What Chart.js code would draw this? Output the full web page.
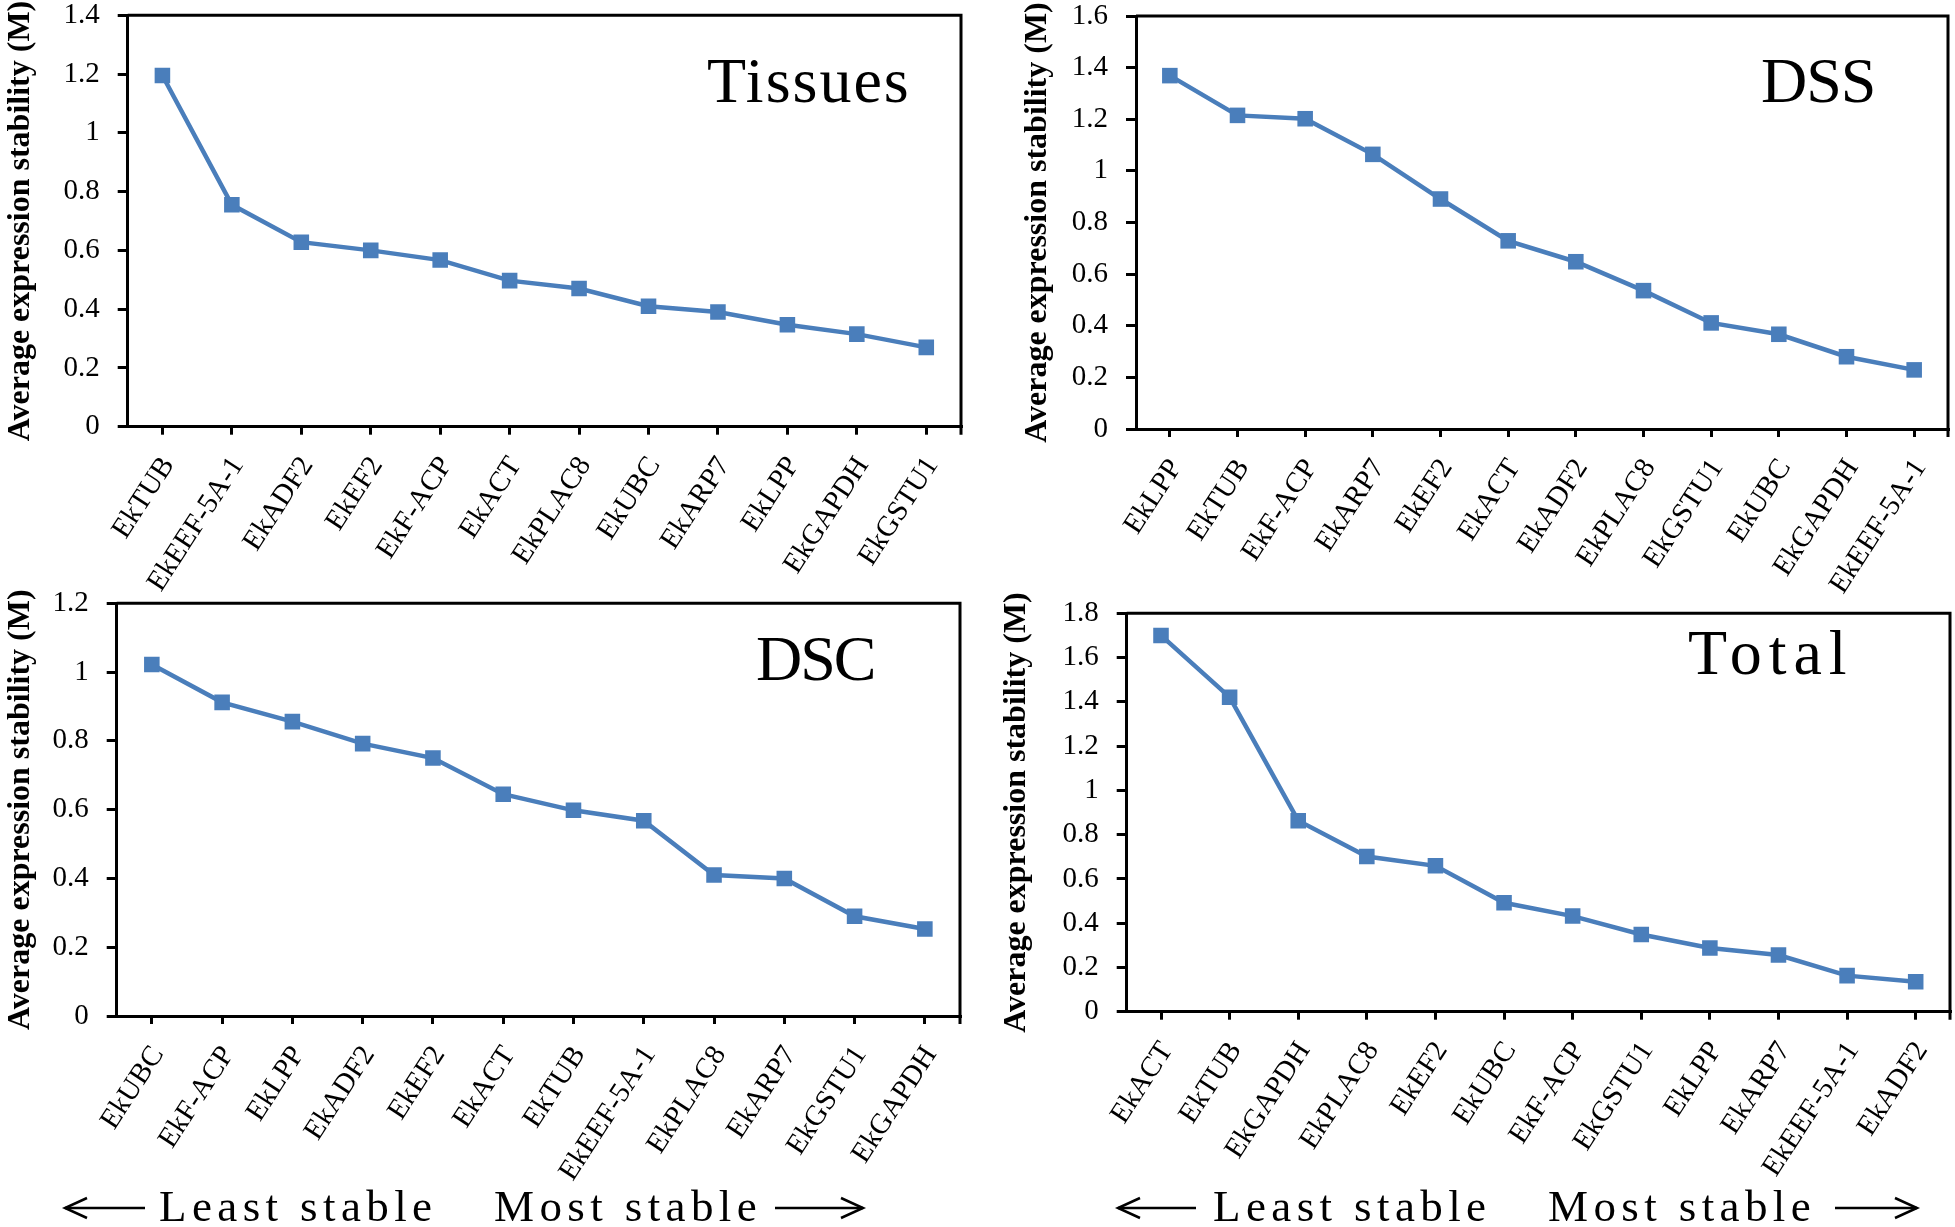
<!DOCTYPE html>
<html>
<head>
<meta charset="utf-8">
<script src="https://cdn.jsdelivr.net/npm/chart.js@4.4.1/dist/chart.umd.min.js"></script>
<style>
  html, body { margin: 0; padding: 0; background: #fff; }
  body { width: 1955px; height: 1227px; position: relative; overflow: hidden; font-family: "Liberation Serif", "Times New Roman", serif; }
  canvas { position: absolute; }
  .ptitle { position: absolute; font-size: 64px; line-height: 64px; letter-spacing: 2px; color: #000; white-space: nowrap; z-index: 2; }
  .stab { position: absolute; font-size: 45px; line-height: 45px; letter-spacing: 5.4px; color: #000; white-space: nowrap; z-index: 2; }
  svg.arrow { position: absolute; z-index: 2; overflow: visible; }
</style>
</head>
<body>
<canvas id="c1" width="975" height="610" style="left:0px;top:0px"></canvas>
<canvas id="c2" width="975" height="610" style="left:980px;top:0px"></canvas>
<canvas id="c3" width="975" height="637" style="left:0px;top:590px"></canvas>
<canvas id="c4" width="975" height="637" style="left:980px;top:590px"></canvas>

<div class="ptitle" style="left:707px;top:49px">Tissues</div>
<div class="ptitle" style="left:1761px;top:49px;letter-spacing:-1px">DSS</div>
<div class="ptitle" style="left:756px;top:627px;letter-spacing:-2px">DSC</div>
<div class="ptitle" style="left:1688px;top:621px;letter-spacing:7px">Total</div>

<div class="stab" style="left:159px;top:1184px">Least stable</div>
<div class="stab" style="left:494px;top:1184px">Most stable</div>
<div class="stab" style="left:1213px;top:1184px">Least stable</div>
<div class="stab" style="left:1548px;top:1184px">Most stable</div>

<svg class="arrow" width="1955" height="1227" style="left:0;top:0;pointer-events:none">
  <g stroke="#000" stroke-width="2.5" fill="none">
    <line x1="65" y1="1208" x2="145" y2="1208"/><polyline points="87,1198 65,1208 87,1218"/>
    <line x1="775" y1="1208" x2="863" y2="1208"/><polyline points="841,1198 863,1208 841,1218"/>
    <line x1="1118" y1="1208" x2="1196" y2="1208"/><polyline points="1140,1198 1118,1208 1140,1218"/>
    <line x1="1835" y1="1208" x2="1917" y2="1208"/><polyline points="1895,1198 1917,1208 1895,1218"/>
  </g>
</svg>

<script>
// ---------------- DATA ----------------
const tissuesGenes = ["EkTUB","EkEEF-5A-1","EkADF2","EkEF2","EkF-ACP","EkACT","EkPLAC8","EkUBC","EkARP7","EkLPP","EkGAPDH","EkGSTU1"];
const tissuesM     = [1.195, 0.755, 0.628, 0.600, 0.567, 0.497, 0.470, 0.410, 0.390, 0.347, 0.315, 0.270];

const dssGenes = ["EkLPP","EkTUB","EkF-ACP","EkARP7","EkEF2","EkACT","EkADF2","EkPLAC8","EkGSTU1","EkUBC","EkGAPDH","EkEEF-5A-1"];
const dssM     = [1.369, 1.215, 1.202, 1.064, 0.891, 0.729, 0.648, 0.536, 0.411, 0.367, 0.280, 0.229];

const dscGenes = ["EkUBC","EkF-ACP","EkLPP","EkADF2","EkEF2","EkACT","EkTUB","EkEEF-5A-1","EkPLAC8","EkARP7","EkGSTU1","EkGAPDH"];
const dscM     = [1.022, 0.912, 0.856, 0.792, 0.750, 0.645, 0.598, 0.568, 0.410, 0.400, 0.290, 0.253];

const totalGenes = ["EkACT","EkTUB","EkGAPDH","EkPLAC8","EkEF2","EkUBC","EkF-ACP","EkGSTU1","EkLPP","EkARP7","EkEEF-5A-1","EkADF2"];
const totalM     = [1.700, 1.421, 0.863, 0.701, 0.659, 0.492, 0.432, 0.349, 0.288, 0.256, 0.163, 0.135];

const yMaxima = { tissues: 1.4, dss: 1.6, dsc: 1.2, total: 1.8 };
const yStep = 0.2;
const yTitle = "Average expression stability (M)";

// ---------------- STYLE ----------------
const lineColor = "#4a7ebb";
const serif = "'Liberation Serif', 'Times New Roman', serif";

const boxPlugin = {
  id: 'plotBox',
  beforeDatasetsDraw(chart) {
    const {ctx, chartArea: a} = chart;
    ctx.save();
    ctx.strokeStyle = '#000';
    ctx.lineWidth = 3;
    ctx.lineCap = 'butt';
    ctx.beginPath();
    ctx.moveTo(a.left, a.top);
    ctx.lineTo(a.right, a.top);
    ctx.moveTo(a.right, a.top - 1.5);
    ctx.lineTo(a.right, a.bottom + 8);
    ctx.stroke();
    ctx.restore();
  }
};

function makePanel(id, labels, values, yMax, lay) {
  const ctx = document.getElementById(id);
  return new Chart(ctx, {
    type: 'line',
    data: {
      labels: labels,
      datasets: [{
        data: values,
        borderColor: lineColor,
        backgroundColor: lineColor,
        borderWidth: 4.5,
        tension: 0,
        pointStyle: 'rect',
        pointRadius: 11,
        pointBorderWidth: 0,
        pointBackgroundColor: lineColor,
        fill: false
      }]
    },
    options: {
      responsive: false,
      animation: false,
      devicePixelRatio: 1,
      layout: { autoPadding: false, padding: { left: lay.padLeft, top: lay.padTop, right: lay.padRight, bottom: 0 } },
      plugins: { legend: { display: false }, tooltip: { enabled: false }, title: { display: false } },
      scales: {
        x: {
          type: 'category',
          offset: true,
          grid: { display: true, drawOnChartArea: false, drawTicks: true, tickLength: 8, color: '#000', lineWidth: 3 },
          border: { display: true, color: '#000', width: 3 },
          ticks: { autoSkip: false, minRotation: 57, maxRotation: 57, color: '#000', padding: 16, labelOffset: 6,
                   font: { family: serif, size: 29 } },
          afterFit: (s) => { s.height = lay.xHeight; s.paddingLeft = 0; s.paddingRight = 0; }
        },
        y: {
          min: 0, max: yMax,
          grid: { display: true, drawOnChartArea: false, drawTicks: true, tickLength: 10, color: '#000', lineWidth: 3 },
          border: { display: true, color: '#000', width: 3 },
          ticks: { stepSize: yStep, color: '#000', padding: 18, font: { family: serif, size: 29 },
                   callback: (v) => String(+v.toFixed(1)) },
          title: { display: true, text: yTitle, color: '#000', padding: { top: 2, bottom: 0 },
                   font: { family: serif, size: 32, weight: 'bold' } },
          afterFit: (s) => { s.width = lay.yWidth; s.paddingTop = 0; s.paddingBottom = 0; }
        }
      }
    },
    plugins: [boxPlugin]
  });
}

makePanel('c1', tissuesGenes, tissuesM, yMaxima.tissues, { padLeft: 0,  padTop: 15.3, padRight: 14, yWidth: 127.7, xHeight: 183.3 });
makePanel('c2', dssGenes,     dssM,     yMaxima.dss,     { padLeft: 37, padTop: 16,   padRight: 7,  yWidth: 119,   xHeight: 181 });
makePanel('c3', dscGenes,     dscM,     yMaxima.dsc,     { padLeft: 0,  padTop: 13.3, padRight: 15, yWidth: 116.7, xHeight: 211 });
makePanel('c4', totalGenes,   totalM,   yMaxima.total,   { padLeft: 16, padTop: 23.3, padRight: 5,  yWidth: 130.7, xHeight: 215.3 });
</script>
</body>
</html>
